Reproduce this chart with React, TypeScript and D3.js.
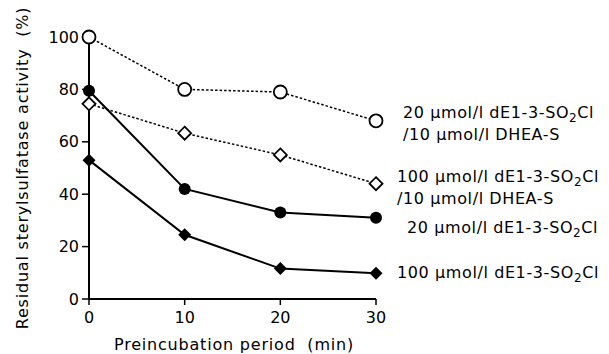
import React from "react";
import * as d3 from "d3";

const times = [0, 10, 20, 30];
const s20DHEA = [100, 80, 79, 68];
const s100DHEA = [74.5, 63.3, 55, 44];
const s20 = [79.5, 42, 33, 31];
const s100 = [53, 24.5, 11.6, 9.8];
const yTicks = [0, 20, 40, 60, 80, 100];
const xTicks = [0, 10, 20, 30];

const W = 609, H = 354;
const FONT = "'DejaVu Sans', sans-serif";

export default function App() {
  const x = d3.scaleLinear().domain([0, 30]).range([89, 376]);
  const y = d3.scaleLinear().domain([0, 100]).range([299, 37]);
  const line = (vals: number[]) =>
    d3.line<number>().x((_, i) => x(times[i])).y((v) => y(v))(vals) || "";
  const diamond = (cx: number, cy: number, r: number) =>
    `M${cx},${cy - r}L${cx + r},${cy}L${cx},${cy + r}L${cx - r},${cy}Z`;

  const legend = [
    { lines: ["20 µmol/l dE1-3-SO", "/10 µmol/l DHEA-S"], x: 403, y: 118 },
    { lines: ["100 µmol/l dE1-3-SO", "/10 µmol/l DHEA-S"], x: 397, y: 182 },
    { lines: ["20 µmol/l dE1-3-SO"], x: 407, y: 233 },
    { lines: ["100 µmol/l dE1-3-SO"], x: 397, y: 278 },
  ];

  return (
    <svg width={W} height={H} style={{ position: "absolute", left: 0, top: 0, background: "#fff" }}>
      <g fontFamily={FONT} fill="#000">
        {/* axes */}
        <line x1={89} x2={89} y1={37} y2={299} stroke="#000" strokeWidth={2} />
        <line x1={89} x2={376} y1={299} y2={299} stroke="#000" strokeWidth={2} />
        {yTicks.map((t) => (
          <g key={t}>
            <line x1={82} x2={89} y1={y(t)} y2={y(t)} stroke="#000" strokeWidth={1.5} />
            <text x={79} y={y(t) + 5.5} textAnchor="end" fontSize={16}>{t}</text>
          </g>
        ))}
        {xTicks.map((t) => (
          <g key={t}>
            <line x1={x(t)} x2={x(t)} y1={299} y2={305} stroke="#000" strokeWidth={1.5} />
            <text x={x(t)} y={323} textAnchor="middle" fontSize={16}>{t}</text>
          </g>
        ))}
        <text x={234} y={350} textAnchor="middle" fontSize={16} letterSpacing={0.8}>
          {"Preincubation period\u00a0 (min)"}
        </text>
        <text transform={`translate(28,168) rotate(-90)`} textAnchor="middle" fontSize={16} letterSpacing={0.8}>
          {"Residual sterylsulfatase activity\u00a0 (%)"}
        </text>

        {/* dotted series */}
        <path d={line(s20DHEA)} fill="none" stroke="#000" strokeWidth={1.5} strokeDasharray="2.5,2" />
        <path d={line(s100DHEA)} fill="none" stroke="#000" strokeWidth={1.5} strokeDasharray="2.5,2" />
        {/* solid series */}
        <path d={line(s20)} fill="none" stroke="#000" strokeWidth={2} />
        <path d={line(s100)} fill="none" stroke="#000" strokeWidth={2} />

        {s20DHEA.map((v, i) => (
          <circle key={"a" + i} cx={x(times[i])} cy={y(v)} r={6.5} fill="#fff" stroke="#000" strokeWidth={1.8} />
        ))}
        {s100DHEA.map((v, i) => (
          <path key={"b" + i} d={diamond(x(times[i]), y(v), 6.5)} fill="#fff" stroke="#000" strokeWidth={1.8} />
        ))}
        {s20.map((v, i) => (
          <circle key={"c" + i} cx={x(times[i])} cy={y(v)} r={6} fill="#000" />
        ))}
        {s100.map((v, i) => (
          <path key={"d" + i} d={diamond(x(times[i]), y(v), 6.5)} fill="#000" />
        ))}

        {legend.map((l, k) => (
          <g key={k}>
            <text x={l.x} y={l.y} fontSize={16} letterSpacing={0.6}>
              {l.lines[0]}
              <tspan dy={4} fontSize={12}>2</tspan>
              <tspan dy={-4}>Cl</tspan>
            </text>
            {l.lines[1] && (
              <text x={l.x} y={l.y + 22} fontSize={16} letterSpacing={0.6}>{l.lines[1]}</text>
            )}
          </g>
        ))}
      </g>
    </svg>
  );
}
